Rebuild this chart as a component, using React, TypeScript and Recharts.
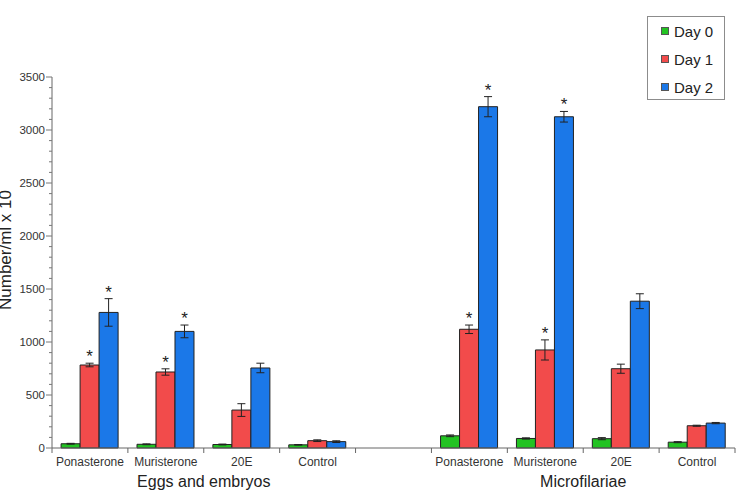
import React from 'react';
import { BarChart, Bar, XAxis, YAxis, ErrorBar, LabelList, Legend } from 'recharts';

const categories = ['Ponasterone', 'Muristerone', '20E', 'Control', '', 'Ponasterone', 'Muristerone', '20E', 'Control'];
const groupLabels = ['Eggs and embryos', 'Microfilariae'];
const groupStartIndex = [0, 5];
const seriesNames = ['Day 0', 'Day 1', 'Day 2'];
const colors = ['#22c322', '#f24b4b', '#1b78e8'];

const day0 = [40, 35, 33, 30, null, 115, 90, 88, 55];
const day0Err = [4, 4, 4, 3, null, 8, 6, 10, 5];
const day1 = [783, 717, 358, 69, null, 1120, 925, 748, 210];
const day1Err = [17, 30, 60, 8, null, 40, 95, 43, 5];
const day2 = [1279, 1100, 755, 60, null, 3220, 3125, 1385, 235];
const day2Err = [130, 60, 45, 8, null, 95, 50, 70, 6];
const sigDay1 = [true, true, false, false, false, true, true, false, false];
const sigDay2 = [true, true, false, false, false, true, true, false, false];

const Y_MAX = 3500;
const Y_MAJOR_STEP = 500;
const Y_MINOR_STEP = 100;
const yTicks = Array.from({ length: Y_MAX / Y_MINOR_STEP + 1 }, (_, i) => i * Y_MINOR_STEP);

const W = 738;
const H = 494;
const M = { top: 77, right: 3, bottom: 0, left: 0 };
const Y_AXIS_W = 52;
const X_AXIS_H = 46;
const PLOT_W = W - M.left - M.right - Y_AXIS_W;
const PLOT_H = H - M.top - M.bottom - X_AXIS_H;
const BAND = PLOT_W / categories.length;
const FONT = '"Liberation Sans", Arial, Helvetica, sans-serif';

const data = categories.map((name, i) => ({
  name,
  d0: day0[i], e0: day0Err[i],
  d1: day1[i], e1: day1Err[i],
  d2: day2[i], e2: day2Err[i],
  s1: sigDay1[i] ? day1Err[i] : null,
  s2: sigDay2[i] ? day2Err[i] : null,
}));

const Star = (props: any) => {
  const { x, y, width, value } = props;
  if (value === null || value === undefined || value === '') return null;
  const errPx = (Number(value) * PLOT_H) / Y_MAX;
  return (
    <text x={x + width / 2} y={y - errPx - 1} textAnchor="middle" fontSize={17} fill="#222" fontFamily={FONT}>
      *
    </text>
  );
};

const XTick = (props: any) => {
  const { x, y, payload, index } = props;
  const gi = groupStartIndex.indexOf(index);
  const left = x - BAND / 2;
  return (
    <g>
      <line x1={left} y1={y} x2={left} y2={y + 5} stroke="#666" />
      {index === categories.length - 1 && (
        <line x1={x + BAND / 2} y1={y} x2={x + BAND / 2} y2={y + 5} stroke="#666" />
      )}
      <text x={x} y={y + 18} textAnchor="middle" fontSize={12} fill="#333" fontFamily={FONT}>
        {payload.value}
      </text>
      {gi >= 0 && (
        <text x={x + 1.5 * BAND} y={y + 39} textAnchor="middle" fontSize={16} fill="#222" fontFamily={FONT}>
          {groupLabels[gi]}
        </text>
      )}
    </g>
  );
};

const YTick = (props: any) => {
  const { x, y, payload } = props;
  const major = payload.value % Y_MAJOR_STEP === 0;
  return (
    <g>
      <line x1={x - (major ? 6 : 3)} y1={y} x2={x} y2={y} stroke="#777" />
      {major && (
        <text x={x - 7} y={y} dy={4} textAnchor="end" fontSize={11.5} fill="#333" fontFamily={FONT}>
          {payload.value}
        </text>
      )}
    </g>
  );
};

const renderLegend = (props: any) => {
  const payload = props.payload || [];
  return (
    <div
      style={{
        border: '1px solid #8c8c8c',
        background: '#fff',
        width: 78,
        height: 84,
        boxSizing: 'border-box',
        fontFamily: FONT,
      }}
    >
      {payload.map((p: any, i: number) => (
        <div key={i} style={{ display: 'flex', alignItems: 'center', height: 28, paddingLeft: 13 }}>
          <span
            style={{
              display: 'inline-block',
              width: 8,
              height: 8,
              background: p.color,
              border: '1px solid #555',
              boxSizing: 'border-box',
              marginRight: 5,
            }}
          />
          <span style={{ fontSize: 15, color: '#222' }}>{p.value}</span>
        </div>
      ))}
    </div>
  );
};

export default function App() {
  return (
    <div style={{ position: 'absolute', left: 0, top: 0, width: W, height: H, background: '#fff' }}>
      <BarChart
        width={W}
        height={H}
        data={data}
        margin={M}
        barCategoryGap="12%"
        barGap={0}
        style={{ fontFamily: FONT }}
      >
        <XAxis
          dataKey="name"
          height={X_AXIS_H}
          tickLine={false}
          tickSize={0}
          tickMargin={0}
          interval={0}
          stroke="#666"
          tick={<XTick />}
        />
        <YAxis
          width={Y_AXIS_W}
          domain={[0, Y_MAX]}
          ticks={yTicks}
          interval={0}
          tickLine={false}
          tickSize={0}
          tickMargin={0}
          stroke="#666"
          tick={<YTick />}
          label={{
            content: () => (
              <text
                transform="translate(11,250) rotate(-90)"
                textAnchor="middle"
                fontSize={17}
                fill="#222"
                fontFamily={FONT}
              >
                Number/ml x 10
              </text>
            ),
          }}
        />
        <Legend
          layout="vertical"
          align="center"
          verticalAlign="middle"
          wrapperStyle={{ top: 16, left: 647, width: 78, height: 84 }}
          content={renderLegend}
        />
        <Bar dataKey="d0" name={seriesNames[0]} fill={colors[0]} stroke="#222" strokeWidth={1} isAnimationActive={false}>
          <ErrorBar dataKey="e0" width={4} stroke="#222" strokeWidth={1} />
        </Bar>
        <Bar dataKey="d1" name={seriesNames[1]} fill={colors[1]} stroke="#222" strokeWidth={1} isAnimationActive={false}>
          <ErrorBar dataKey="e1" width={4} stroke="#222" strokeWidth={1} />
          <LabelList dataKey="s1" content={<Star />} />
        </Bar>
        <Bar dataKey="d2" name={seriesNames[2]} fill={colors[2]} stroke="#222" strokeWidth={1} isAnimationActive={false}>
          <ErrorBar dataKey="e2" width={4} stroke="#222" strokeWidth={1} />
          <LabelList dataKey="s2" content={<Star />} />
        </Bar>
      </BarChart>
    </div>
  );
}
